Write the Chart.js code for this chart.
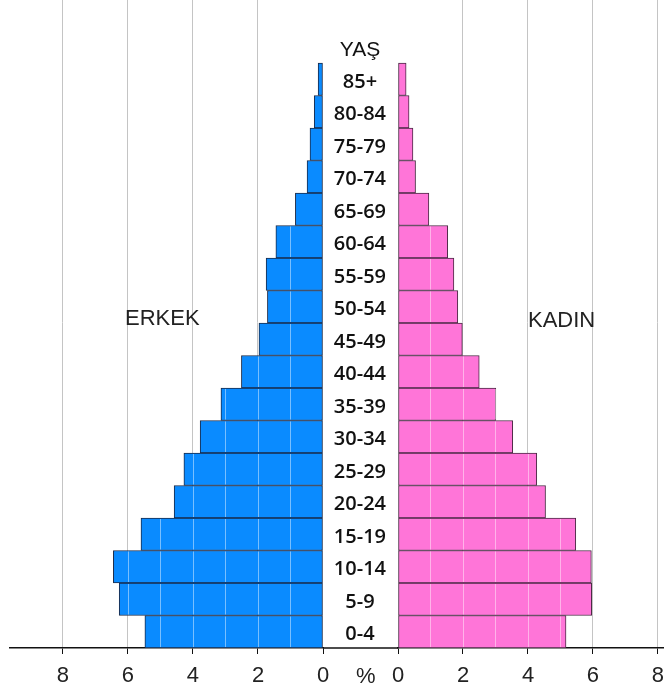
<!DOCTYPE html>
<html>
<head>
<meta charset="utf-8">
<script src="https://cdn.jsdelivr.net/npm/chart.js@4.4.1/dist/chart.umd.min.js"></script>
<style>
  html, body { margin: 0; padding: 0; background: #fff; }
  #wrap { position: relative; width: 664px; height: 691px; overflow: hidden; font-family: "Liberation Sans", Arial, sans-serif; }
  canvas { position: absolute; }
  #leftChart { left: 0; top: -2px; }
  #rightChart { left: 323px; top: -2px; }
  .lbl { position: absolute; font-size: 22px; color: #222; line-height: 1; white-space: nowrap; }
</style>
</head>
<body>
<div id="wrap">
  <canvas id="leftChart" width="330" height="693"></canvas>
  <canvas id="rightChart" width="341" height="693"></canvas>
  <div class="lbl" style="left:125px; top:307px">ERKEK</div>
  <div class="lbl" style="left:528px; top:309px">KADIN</div>
  <div class="lbl" style="left:356px; top:665px">%</div>
</div>
<script>
// population pyramid, top row = oldest
const ageGroups = ["85+", "80-84", "75-79", "70-74", "65-69", "60-64", "55-59", "50-54", "45-49",
  "40-44", "35-39", "30-34", "25-29", "20-24", "15-19", "10-14", "5-9", "0-4"];
const maleValues = [0.15, 0.27, 0.4, 0.49, 0.85, 1.45, 1.75, 1.71, 1.97,
  2.51, 3.14, 3.78, 4.28, 4.58, 5.6, 6.45, 6.27, 5.48];
const femaleValues = [0.25, 0.34, 0.46, 0.54, 0.95, 1.53, 1.72, 1.84, 1.98,
  2.5, 3.01, 3.53, 4.27, 4.54, 5.47, 5.95, 5.96, 5.17];
const axisTicks = [0, 1, 2, 3, 4, 5, 6, 7, 8];

// two empty rows on top: spacer + the "YAŞ" header
const labels = ["", "YAŞ", ...ageGroups];
const pad = arr => [null, null, ...arr];

const tickFont = { family: "'Liberation Sans', Arial, sans-serif", size: 22 };

// light lines across the bars at every unit
const barGridPlugin = {
  id: "barGrid",
  afterDatasetsDraw(chart) {
    const xs = chart.scales.x;
    const ctx = chart.ctx;
    const meta = chart.getDatasetMeta(0);
    const data = chart.data.datasets[0].data;
    ctx.save();
    ctx.strokeStyle = "rgba(255,255,255,0.45)";
    ctx.lineWidth = 1;
    meta.data.forEach((bar, i) => {
      const v = data[i];
      if (v == null) return;
      const h = bar.height / 2;
      for (let g = 1; g < v; g++) {
        const px = Math.round(xs.getPixelForValue(g)) + 0.5;
        ctx.beginPath();
        ctx.moveTo(px, bar.y - h + 1);
        ctx.lineTo(px, bar.y + h - 1);
        ctx.stroke();
      }
    });
    ctx.restore();
  }
};

// axis line through the label column
const bridgePlugin = {
  id: "bridge",
  afterDraw(chart) {
    const ctx = chart.ctx;
    const y = chart.scales.x.top;
    ctx.save();
    ctx.strokeStyle = "#111";
    ctx.lineWidth = 1.5;
    ctx.beginPath();
    ctx.moveTo(0, y);
    ctx.lineTo(chart.chartArea.left, y);
    ctx.stroke();
    ctx.restore();
  }
};

function xScale(max, reverse) {
  return {
    type: "linear",
    min: 0,
    max: max,
    reverse: reverse,
    afterBuildTicks: s => { s.ticks = axisTicks.map(v => ({ value: v })); },
    afterFit: s => { s.height = 43; s.paddingLeft = 0; s.paddingRight = 0; },
    grid: {
      color: c => (c.tick && c.tick.value > 0 && c.tick.value % 2 === 0) ? "#c4c4c4" : "rgba(0,0,0,0)",
      tickColor: c => (c.tick && c.tick.value % 2 === 0) ? "#111" : "rgba(0,0,0,0)",
      tickLength: 6,
      lineWidth: 1
    },
    border: { color: "#111", width: 1.5 },
    ticks: {
      autoSkip: false,
      maxRotation: 0,
      padding: 9,
      color: "#222",
      font: tickFont,
      callback: v => (v % 2 === 0 ? String(v) : "")
    }
  };
}

function barDataset(values, fill, border) {
  return {
    data: pad(values),
    backgroundColor: fill,
    borderColor: border,
    borderWidth: 1,
    borderSkipped: false,
    barPercentage: 1,
    categoryPercentage: 1
  };
}

new Chart(document.getElementById("leftChart"), {
  type: "bar",
  data: { labels, datasets: [barDataset(maleValues, "#0a8bff", "#1a2a48")] },
  options: {
    indexAxis: "y",
    responsive: false,
    animation: false,
    layout: { padding: { left: 10, right: 7, top: 0, bottom: 0 } },
    plugins: { legend: { display: false }, tooltip: { enabled: false } },
    scales: {
      x: xScale(9.63, true),
      y: { display: false }
    }
  },
  plugins: [barGridPlugin]
});

new Chart(document.getElementById("rightChart"), {
  type: "bar",
  data: { labels, datasets: [barDataset(femaleValues, "#ff75d8", "#4a2a44")] },
  options: {
    indexAxis: "y",
    responsive: false,
    animation: false,
    layout: { padding: 0 },
    plugins: { legend: { display: false }, tooltip: { enabled: false } },
    scales: {
      x: xScale(8.185, false),
      y: {
        position: "left",
        afterFit: s => { s.width = 75; s.paddingTop = 0; s.paddingBottom = 0; },
        grid: { display: false, drawTicks: false },
        border: { display: false },
        ticks: {
          autoSkip: false,
          crossAlign: "center",
          padding: 12,
          labelOffset: 3,
          color: "#111",
          font: c => (c.index === 1
            ? { family: "'Liberation Sans', Arial, sans-serif", size: 21, weight: "normal" }
            : { family: "'Open Sans', 'Noto Sans', sans-serif", size: 20, weight: "600" })
        }
      }
    }
  },
  plugins: [barGridPlugin, bridgePlugin]
});
</script>
</body>
</html>
